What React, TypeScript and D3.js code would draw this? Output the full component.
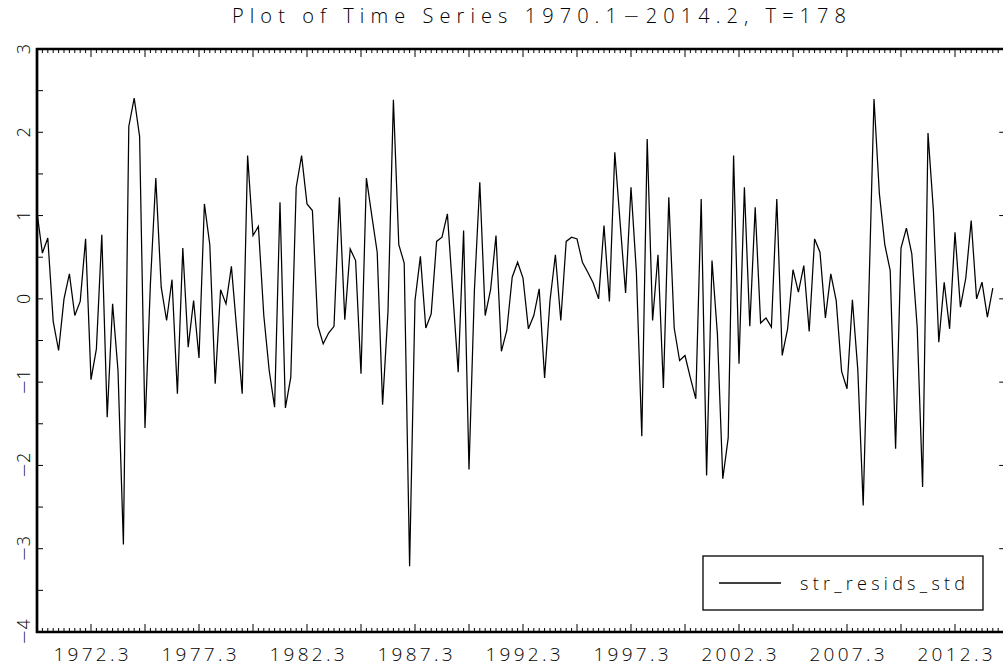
import React from "react";
import * as d3 from "d3";

const titleParts = ["Plot of Time Series 1970.1", "\u2212", "2014.2, T=178"];
const seriesName = "str_resids_std";
const startYear = 1970;
const startQuarter = 1;

const residuals: number[] = [
  1.04, 0.55, 0.73, -0.27, -0.62, 0.0, 0.3, -0.2, -0.03, 0.72,
  -0.97, -0.6, 0.77, -1.42, -0.06, -0.86, -2.95, 2.07, 2.41, 1.95,
  -1.55, 0.18, 1.45, 0.14, -0.26, 0.23, -1.14, 0.61, -0.58, -0.02,
  -0.71, 1.14, 0.65, -1.02, 0.11, -0.06, 0.39, -0.38, -1.14, 1.72,
  0.76, 0.87, -0.2, -0.86, -1.3, 1.16, -1.31, -0.94, 1.34, 1.72,
  1.14, 1.06, -0.32, -0.54, -0.41, -0.33, 1.22, -0.25, 0.6, 0.46,
  -0.9, 1.45, 1.0, 0.56, -1.27, -0.15, 2.39, 0.65, 0.43, -3.21,
  -0.02, 0.51, -0.35, -0.18, 0.69, 0.74, 1.02, 0.07, -0.88, 0.82,
  -2.05, 0.1, 1.4, -0.2, 0.11, 0.76, -0.63, -0.38, 0.26, 0.44,
  0.25, -0.36, -0.2, 0.12, -0.95, -0.02, 0.53, -0.26, 0.69, 0.74,
  0.72, 0.44, 0.32, 0.19, 0.0, 0.88, -0.03, 1.76, 0.9, 0.07,
  1.34, 0.32, -1.65, 1.92, -0.26, 0.53, -1.07, 1.22, -0.35, -0.74,
  -0.68, -0.95, -1.2, 1.2, -2.12, 0.46, -0.42, -2.16, -1.67, 1.72,
  -0.78, 1.34, -0.33, 1.1, -0.29, -0.23, -0.34, 1.2, -0.68, -0.36,
  0.35, 0.08, 0.4, -0.39, 0.72, 0.56, -0.23, 0.3, -0.02, -0.87,
  -1.08, -0.01, -0.85, -2.48, -0.05, 2.4, 1.26, 0.65, 0.34, -1.8,
  0.61, 0.85, 0.54, -0.34, -2.26, 1.99, 1.06, -0.52, 0.2, -0.36,
  0.8, -0.1, 0.25, 0.94, 0.0, 0.2, -0.22, 0.13,
];

const xTickLabels = [
  "1972.3", "1977.3", "1982.3", "1987.3", "1992.3",
  "1997.3", "2002.3", "2007.3", "2012.3",
];
const yTickValues = [-4, -3, -2, -1, 0, 1, 2, 3];

const FONT = "'Open Sans', 'DejaVu Sans', sans-serif";
const MINUS_FONT = "'DejaVu Sans', sans-serif";
const WEIGHT = 300;

export default function App() {
  const W = 1003;
  const H = 668;
  const x = d3
    .scaleLinear()
    .domain([0, residuals.length - 1])
    .range([37, 992.8]);
  const y = d3.scaleLinear().domain([-4, 3]).range([632, 49]);
  const leftX = x(0);
  const rightX = x(179.3);
  const topY = y(3);
  const botY = y(-4);

  const line = d3
    .line<number>()
    .x((_, i) => x(i))
    .y((d) => y(d));

  const labelIndex = (s: string) => {
    const [yr, q] = s.split(".").map(Number);
    return (yr - startYear) * 4 + (q - startQuarter);
  };

  const quarterTicks = d3.range(0, 180);
  const halfTicks = d3.range(-4, 3.001, 0.5);

  return (
    <svg
      width={W}
      height={H}
      style={{ position: "absolute", left: 0, top: 0, background: "#fff" }}
    >
      <rect x={0} y={0} width={W} height={H} fill="#fff" />
      {/* title */}
      <text
        x={232}
        y={23}
        fontFamily={FONT}
        fontWeight={WEIGHT}
        fontSize={20}
        textLength={614}
        lengthAdjust="spacing"
        fill="#000"
      >
        {titleParts[0]}
        <tspan fontFamily={MINUS_FONT} fontWeight={200}>{titleParts[1]}</tspan>
        {titleParts[2]}
      </text>

      {/* x ticks top & bottom */}
      {quarterTicks.map((i) => {
        const major = i % 10 === 0;
        const len = major ? 8 : 4;
        const xx = x(i);
        return (
          <g key={"xt" + i}>
            <line x1={xx} x2={xx} y1={topY} y2={topY + len} stroke="#000" strokeWidth={1} />
            <line x1={xx} x2={xx} y1={botY} y2={botY - len} stroke="#000" strokeWidth={1} />
          </g>
        );
      })}

      {/* y ticks left (every 0.5) and right (integers) */}
      {halfTicks.map((v) => (
        <line
          key={"yl" + v}
          x1={leftX}
          x2={leftX + 6}
          y1={y(v)}
          y2={y(v)}
          stroke="#000"
          strokeWidth={1}
        />
      ))}
      {yTickValues.map((v) => (
        <line
          key={"yr" + v}
          x1={rightX - 6}
          x2={rightX}
          y1={y(v)}
          y2={y(v)}
          stroke="#000"
          strokeWidth={1}
        />
      ))}

      {/* axes frame */}
      <line x1={leftX - 1} x2={rightX} y1={topY} y2={topY} stroke="#000" strokeWidth={2.5} />
      <line x1={leftX - 1} x2={rightX} y1={botY} y2={botY} stroke="#000" strokeWidth={2.5} />
      <line x1={leftX} x2={leftX} y1={topY - 1} y2={botY + 1} stroke="#000" strokeWidth={2.7} />
      <line x1={rightX} x2={rightX} y1={topY} y2={botY} stroke="#000" strokeWidth={2.5} />

      {/* y labels (rotated) */}
      {yTickValues.map((v) => (
        <text
          key={"ylab" + v}
          transform={`translate(23, ${y(v)}) rotate(-90)`}
          textAnchor="middle"
          dominantBaseline="central"
          fontFamily={FONT}
          fontWeight={WEIGHT}
          fontSize={18}
          fill="#000"
        >
          {v < 0 ? (
            <>
              <tspan fontFamily={MINUS_FONT} fontWeight={200}>{"\u2212"}</tspan>
              {String(Math.abs(v))}
            </>
          ) : (
            String(v)
          )}
        </text>
      ))}

      {/* x labels */}
      {xTickLabels.map((s) => (
        <text
          key={"xlab" + s}
          x={x(labelIndex(s)) - 37.5}
          y={661}
          fontFamily={FONT}
          fontWeight={WEIGHT}
          fontSize={19}
          textLength={75}
          lengthAdjust="spacing"
          fill="#000"
        >
          {s}
        </text>
      ))}

      {/* series */}
      <path d={line(residuals) || ""} fill="none" stroke="#000" strokeWidth={1.25} strokeLinejoin="miter" />

      {/* legend */}
      <rect x={703} y={556} width={280} height={54} fill="#fff" stroke="#000" strokeWidth={1.3} />
      <line x1={719} x2={781} y1={583} y2={583} stroke="#000" strokeWidth={1.3} />
      <text
        x={800}
        y={590}
        fontFamily={FONT}
        fontWeight={WEIGHT}
        fontSize={18}
        textLength={165}
        lengthAdjust="spacing"
        fill="#000"
      >
        {seriesName}
      </text>
    </svg>
  );
}
